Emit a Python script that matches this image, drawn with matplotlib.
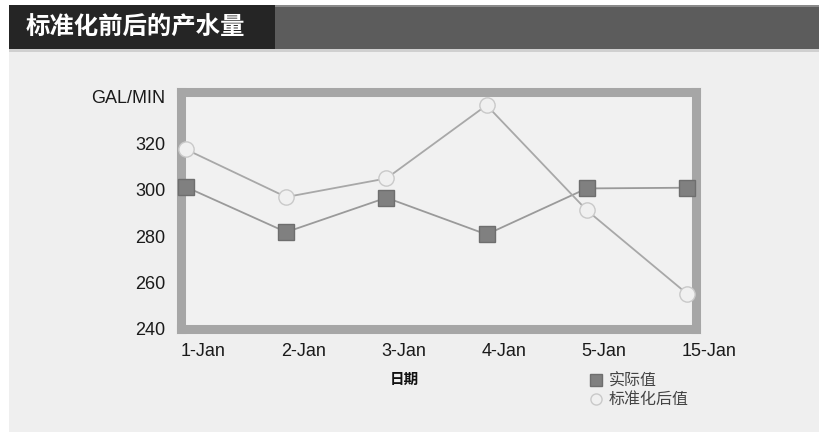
import numpy as np
import matplotlib
matplotlib.use('Agg')
import matplotlib.pyplot as plt
from matplotlib.patches import Rectangle
from matplotlib.lines import Line2D
from matplotlib.transforms import ScaledTranslation

plt.rcParams['font.family'] = ['Liberation Sans', 'Noto Sans CJK SC', 'DejaVu Sans']

# Data
dates = ['1-Jan', '2-Jan', '3-Jan', '4-Jan', '5-Jan', '15-Jan']
actual = [301.1, 281.7, 296.5, 280.7, 300.5, 300.8]
normalized = [317.3, 296.8, 304.8, 336.3, 291.1, 255.2]
y_ticks = [240, 260, 280, 300, 320]

W, H = 820, 432
fig = plt.figure(figsize=(W / 100, H / 100), dpi=100, facecolor='white')

def px(x0, y0, w, h):
    # pixel box (top-left origin) -> figure fraction
    return [x0 / W, 1 - (y0 + h) / H, w / W, h / H]

# page background and title band
bg = fig.add_axes([0, 0, 1, 1], zorder=-10)
bg.set_xlim(0, W)
bg.set_ylim(H, 0)
bg.axis('off')
bg.add_patch(Rectangle((9, 49), W - 9, H - 49, color='#efefef', lw=0))
bg.add_patch(Rectangle((9, 5), 266, 44, color='#252525', lw=0))
bg.add_patch(Rectangle((275, 5), W - 275, 44, color='#5c5c5c', lw=0))
bg.add_patch(Rectangle((275, 5), W - 275, 2, color='#8a8a8a', lw=0))
bg.add_patch(Rectangle((9, 49), W - 9, 3, color='#d0d0d0', lw=0))
bg.text(26, 28, '标准化前后的产水量', color='white', fontsize=17.6, fontweight='bold',
        family=['Noto Sans CJK SC'], va='center', ha='left')

# main chart
ax = fig.add_axes(px(181, 92, 515, 237))
ax.set_facecolor('#f1f1f1')
x = np.arange(len(dates))
ax.plot(x, actual, color='#9a9a9a', lw=1.3, marker='s', ms=11,
        mfc='#808080', mec='#6e6e6e', mew=1, clip_on=False, zorder=5)
ax.plot(x, normalized, color='#a8a8a8', lw=1.3, marker='o', ms=11,
        mfc='#f0f0f0', mec='#c9c9c9', mew=1, clip_on=False, zorder=5)

ax.set_xlim(-0.05, 5.09)
ax.set_ylim(240, 342)
for s in ax.spines.values():
    s.set_linewidth(6.5)
    s.set_color('#a6a6a6')
    s.set_zorder(2)

ax.set_yticks(y_ticks + [340])
ax.set_yticklabels([str(v) for v in y_ticks] + ['GAL/MIN'])
ax.tick_params(axis='y', length=0, pad=11, labelsize=13, labelcolor='#1a1a1a')
ax.set_xticks(x)
ax.set_xticklabels(dates)
ax.tick_params(axis='x', length=0, pad=10, labelsize=13, labelcolor='#1a1a1a')
off = ScaledTranslation(-5 / 100, 0, fig.dpi_scale_trans)
for lab in ax.get_xticklabels():
    lab.set_ha('left')
    lab.set_transform(lab.get_transform() + off)

fig.text(404 / W, 1 - 379 / H, '日期', fontsize=10.5, fontweight='bold',
         family=['Noto Sans CJK SC'], ha='center', va='center', color='#111111')

handles = [
    Line2D([], [], ls='none', marker='s', ms=8, mfc='#808080', mec='#6e6e6e'),
    Line2D([], [], ls='none', marker='o', ms=8, mfc='#f0f0f0', mec='#c9c9c9'),
]
leg = fig.legend(handles, ['实际值', '标准化后值'], loc='upper left',
                 bbox_to_anchor=(574 / W, 1 - 358 / H), frameon=False,
                 handlelength=1.0, handletextpad=0.3, labelspacing=0.12,
                 prop={'family': ['Noto Sans CJK SC'], 'size': 11.5})
for t in leg.get_texts():
    t.set_color('#444444')

fig.savefig('out.png', dpi=100, facecolor=fig.get_facecolor())
